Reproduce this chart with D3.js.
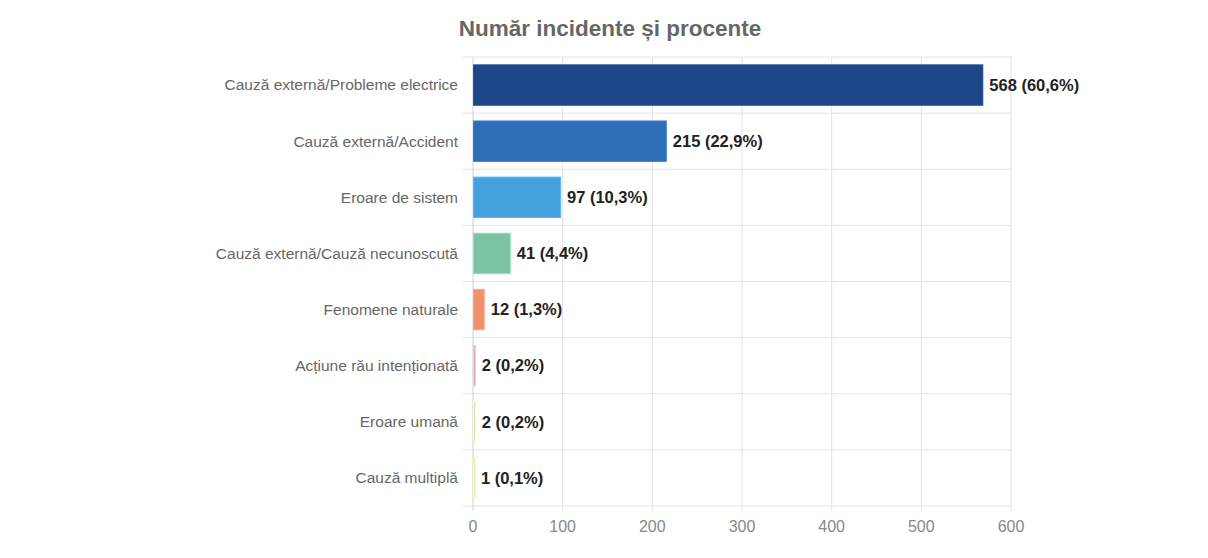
<!DOCTYPE html>
<html lang="ro">
<head>
    <meta charset="UTF-8">
    <title>Număr incidente și procente</title>
    <script src="https://d3js.org/d3.v7.min.js"></script>
    <style>
        body { margin: 0; background: #fff; font-family: Arial, "Liberation Sans", sans-serif; }
        svg { display: block; }
    </style>
</head>
<body>
    <div id="chart"></div>
    <script>
        // data
        const categories = [
            "Cauză externă/Probleme electrice",
            "Cauză externă/Accident",
            "Eroare de sistem",
            "Cauză externă/Cauză necunoscută",
            "Fenomene naturale",
            "Acțiune rău intenționată",
            "Eroare umană",
            "Cauză multiplă"
        ];
        const counts = [568, 215, 97, 41, 12, 2, 2, 1];
        const percents = ["60,6%", "22,9%", "10,3%", "4,4%", "1,3%", "0,2%", "0,2%", "0,1%"];
        const barColors = ["#1d4788", "#2f6eb9", "#45a0de", "#7cc3a3", "#ef916d", "#e8a3bd", "#d6e39a", "#d8e08a"];
        const xTicks = [0, 100, 200, 300, 400, 500, 600];

        const width = 1208, height = 558;
        const margin = { top: 57, left: 473, right: 197, bottom: 52 };
        const innerW = width - margin.left - margin.right;
        const innerH = height - margin.top - margin.bottom;

        const svg = d3.select("#chart").append("svg")
            .attr("width", width)
            .attr("height", height);

        svg.append("text")
            .attr("x", 610)
            .attr("y", 36)
            .attr("text-anchor", "middle")
            .style("font-size", "22.5px")
            .style("font-weight", "bold")
            .style("fill", "#666")
            .text("Număr incidente și procente");

        const g = svg.append("g").attr("transform", `translate(${margin.left},${margin.top})`);

        const x = d3.scaleLinear().domain([0, 600]).range([0, innerW]);
        const y = d3.scaleBand().domain(categories).range([0, innerH]).paddingInner(0.28).paddingOuter(0.14);
        const step = innerH / categories.length;

        // horizontal grid lines at category boundaries
        g.selectAll(".hgrid")
            .data(d3.range(categories.length + 1))
            .enter().append("line")
            .attr("x1", -10)
            .attr("x2", innerW)
            .attr("y1", i => i * step)
            .attr("y2", i => i * step)
            .attr("stroke", "#e2e2e2");

        // vertical grid lines
        g.selectAll(".vgrid")
            .data(xTicks)
            .enter().append("line")
            .attr("x1", d => x(d))
            .attr("x2", d => x(d))
            .attr("y1", 0)
            .attr("y2", innerH + 5)
            .attr("stroke", d => d === 0 ? "#cfcfcf" : "#e2e2e2");

        // x tick labels
        g.selectAll(".xtick")
            .data(xTicks)
            .enter().append("text")
            .attr("x", d => x(d))
            .attr("y", innerH + 26)
            .attr("text-anchor", "middle")
            .style("font-size", "16px")
            .style("fill", "#888")
            .text(d => d);

        // category labels
        g.selectAll(".cat")
            .data(categories)
            .enter().append("text")
            .attr("x", -15)
            .attr("y", d => y(d) + y.bandwidth() / 2)
            .attr("dy", "0.35em")
            .attr("text-anchor", "end")
            .style("font-size", "15.5px")
            .style("fill", "#666")
            .text(d => d);

        // bars
        g.selectAll(".bar")
            .data(counts)
            .enter().append("rect")
            .attr("x", x(0) + 0.5)
            .attr("y", (d, i) => y(categories[i]))
            .attr("width", d => Math.max(x(d) - x(0), 1.5))
            .attr("height", y.bandwidth())
            .attr("fill", (d, i) => barColors[i])
            .attr("stroke", (d, i) => d3.color(barColors[i]).brighter(0.4))
            .attr("stroke-width", 1);

        // value labels
        g.selectAll(".val")
            .data(counts)
            .enter().append("text")
            .attr("x", d => x(d) + 7)
            .attr("y", (d, i) => y(categories[i]) + y.bandwidth() / 2)
            .attr("dy", "0.35em")
            .style("font-size", "16.5px")
            .style("font-weight", "bold")
            .style("fill", "#222")
            .text((d, i) => `${d} (${percents[i]})`);
    </script>
</body>
</html>
